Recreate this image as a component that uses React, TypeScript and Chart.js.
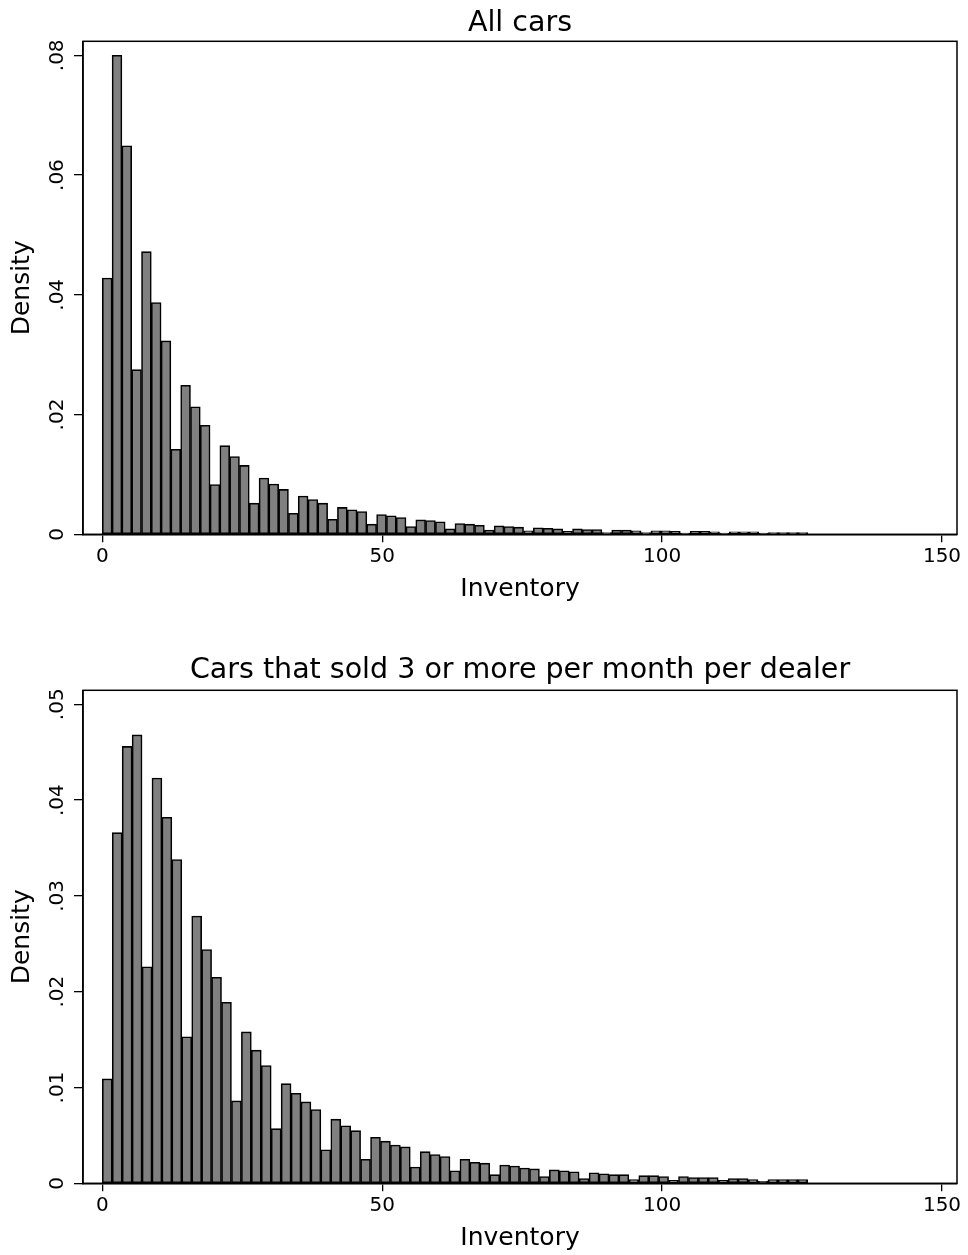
import { useEffect, useRef } from "react";
import { Chart, registerables } from "chart.js";

Chart.register(...registerables);

// Histogram densities (bins span 0..126)
const allCarsDensity = [
  0.0428, 0.08, 0.0649, 0.0275, 0.0472, 0.0387, 0.0323, 0.0142, 0.0249, 0.0213,
  0.0182, 0.0083, 0.0148, 0.013, 0.0115, 0.0052, 0.0094, 0.0084, 0.0075, 0.0035,
  0.0064, 0.0058, 0.0052, 0.0025, 0.0045, 0.0041, 0.0038, 0.0017, 0.0033, 0.0031,
  0.0028, 0.0013, 0.0024, 0.0023, 0.0021, 0.0009, 0.0018, 0.0017, 0.0015, 0.0007,
  0.0014, 0.0013, 0.0012, 0.0006, 0.0011, 0.001, 0.0009, 0.0005, 0.0009, 0.0008,
  0.0008, 0.0003, 0.0007, 0.0007, 0.0006, 0.0003, 0.0006, 0.0006, 0.0005, 0.0002,
  0.0005, 0.0005, 0.0004, 0.0002, 0.0004, 0.0004, 0.0004, 0.0002, 0.0003, 0.0003,
  0.0003, 0.0003,
];

const topSellersDensity = [
  0.0109, 0.0366, 0.0456, 0.0468, 0.0226, 0.0423, 0.0382, 0.0338, 0.0153, 0.0279,
  0.0244, 0.0215, 0.0189, 0.0086, 0.0158, 0.0139, 0.0123, 0.0057, 0.0104, 0.0094,
  0.0085, 0.0077, 0.0035, 0.0067, 0.006, 0.0055, 0.0025, 0.0048, 0.0044, 0.004,
  0.0038, 0.0017, 0.0033, 0.003, 0.0028, 0.0013, 0.0025, 0.0022, 0.0021, 0.0009,
  0.0019, 0.0018, 0.0016, 0.0015, 0.0007, 0.0014, 0.0013, 0.0012, 0.0005, 0.0011,
  0.001, 0.0009, 0.0009, 0.0004, 0.0008, 0.0008, 0.0007, 0.0003, 0.0007, 0.0006,
  0.0006, 0.0006, 0.0003, 0.0005, 0.0005, 0.0004, 0.0002, 0.0004, 0.0004, 0.0004,
  0.0004,
];

const inventoryRange = [0, 126];
const xTickValues = [0, 50, 100, 150];
const xTickLabels = ["0", "50", "100", "150"];

const yTicksAll = [0, 0.02, 0.04, 0.06, 0.08];
const yTickLabelsAll = ["0", ".02", ".04", ".06", ".08"];
const yTicksSellers = [0, 0.01, 0.02, 0.03, 0.04, 0.05];
const yTickLabelsSellers = ["0", ".01", ".02", ".03", ".04", ".05"];

const FONT = "'DejaVu Sans', 'Liberation Sans', sans-serif";

type PanelProps = {
  title: string;
  density: number[];
  yTicks: number[];
  yLabels: string[];
  yMax: number;
  top: number;
  height: number;
  titlePadTop: number;
  titlePadBottom: number;
  areaBottom: number;
  xTitlePadBottom: number;
};

function HistPanel(p: PanelProps) {
  const ref = useRef<HTMLCanvasElement | null>(null);

  useEffect(() => {
    if (!ref.current) return;
    const n = p.density.length;
    const w = (inventoryRange[1] - inventoryRange[0]) / n;
    const points = p.density.map((d, i) => ({ x: inventoryRange[0] + (i + 0.5) * w, y: d }));

    const framePlugin = {
      id: "stataFrame",
      afterDraw(chart: any) {
        const { ctx, chartArea: a, scales } = chart;
        const y = scales.y;
        ctx.save();
        ctx.strokeStyle = "#000";
        ctx.lineWidth = 1.5;
        ctx.strokeRect(a.left, a.top, a.right - a.left, a.bottom - a.top);
        ctx.fillStyle = "#000";
        ctx.font = `20px ${FONT}`;
        ctx.textAlign = "center";
        ctx.textBaseline = "alphabetic";
        p.yTicks.forEach((v, i) => {
          const py = y.getPixelForValue(v);
          ctx.save();
          ctx.translate(a.left - 20, py);
          ctx.rotate(-Math.PI / 2);
          ctx.fillText(p.yLabels[i], 0, 0);
          ctx.restore();
        });
        ctx.restore();
      },
    };

    const chart = new Chart(ref.current, {
      type: "bar",
      data: {
        datasets: [
          {
            data: points as any,
            backgroundColor: "#808080",
            borderColor: "#000",
            borderWidth: 1.6,
            borderSkipped: false,
            categoryPercentage: 1,
            barPercentage: 1,
          } as any,
        ],
      },
      options: {
        animation: false,
        responsive: false,
        maintainAspectRatio: false,
        layout: { padding: { left: 0, right: 11, top: 0, bottom: 0 } },
        plugins: {
          legend: { display: false },
          tooltip: { enabled: false },
          title: {
            display: true,
            fullSize: false,
            text: p.title,
            color: "#000",
            font: { family: FONT, size: 28.5, weight: "normal" as any },
            padding: { top: p.titlePadTop, bottom: p.titlePadBottom },
          },
        },
        scales: {
          x: {
            type: "linear",
            min: -3.45,
            max: 152.68,
            offset: false,
            afterBuildTicks: (s: any) => {
              s.ticks = xTickValues.map((v) => ({ value: v }));
            },
            afterFit: (s: any) => {
              s.height = p.height - p.areaBottom;
            },
            ticks: {
              autoSkip: false,
              maxRotation: 0,
              padding: 2,
              color: "#000",
              font: { family: FONT, size: 20 },
              callback: (v: any) => xTickLabels[xTickValues.indexOf(Number(v))],
            },
            grid: {
              display: true,
              drawOnChartArea: false,
              drawTicks: true,
              tickLength: 8,
              color: "#000",
              lineWidth: 1.3,
              offset: false,
            },
            border: { display: true, color: "#000", width: 1.5 },
            title: {
              display: true,
              text: "Inventory",
              color: "#000",
              font: { family: FONT, size: 25 },
              padding: { top: 0, bottom: p.xTitlePadBottom },
            },
          } as any,
          y: {
            type: "linear",
            min: 0,
            max: p.yMax,
            afterBuildTicks: (s: any) => {
              s.ticks = p.yTicks.map((v) => ({ value: v }));
            },
            afterFit: (s: any) => {
              s.width = 83;
            },
            ticks: { display: false },
            grid: {
              display: true,
              drawOnChartArea: false,
              drawTicks: true,
              tickLength: 9,
              color: "#000",
              lineWidth: 1.3,
            },
            border: { display: true, color: "#000", width: 1.5 },
            title: {
              display: true,
              text: "Density",
              color: "#000",
              font: { family: FONT, size: 25 },
              padding: { top: 7, bottom: 0 },
            },
          } as any,
        },
      },
      plugins: [framePlugin],
    });
    return () => chart.destroy();
  }, []);

  return (
    <canvas
      ref={ref}
      width={968}
      height={p.height}
      style={{ position: "absolute", left: 0, top: p.top, width: 968, height: p.height }}
    />
  );
}

export default function App() {
  return (
    <div style={{ position: "absolute", left: 0, top: 0, width: 968, height: 1255, background: "#fff" }}>
      <HistPanel
        title="All cars"
        density={allCarsDensity}
        yTicks={yTicksAll}
        yLabels={yTickLabelsAll}
        yMax={0.08234}
        top={0}
        height={627}
        titlePadTop={6}
        titlePadBottom={1.1}
        areaBottom={534.3}
        xTitlePadBottom={23}
      />
      <HistPanel
        title="Cars that sold 3 or more per month per dealer"
        density={topSellersDensity}
        yTicks={yTicksSellers}
        yLabels={yTickLabelsSellers}
        yMax={0.05146}
        top={627}
        height={628}
        titlePadTop={26}
        titlePadBottom={3.1}
        areaBottom={556.3}
        xTitlePadBottom={2}
      />
    </div>
  );
}
